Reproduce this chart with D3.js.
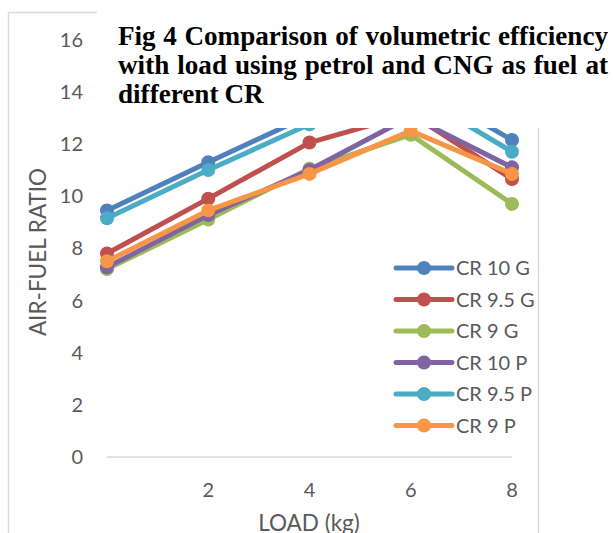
<!DOCTYPE html>
<html>
<head>
<meta charset="utf-8">
<script src="https://cdn.jsdelivr.net/npm/d3@7"></script>
<style>
  body { margin: 0; background: #fff; }
  svg { display: block; }
  text { font-family: Lato, "Noto Sans", sans-serif; fill: #595959; }
</style>
</head>
<body>
<div id="chart"></div>
<script>
// data (values above ~12.6 are hidden behind the caption box, estimated)
var loads = [0, 2, 4, 6, 8];
var xTicks = [2, 4, 6, 8];
var yTicks = [0, 2, 4, 6, 8, 10, 12, 14, 16];
var seriesNames = ["CR 10 G", "CR 9.5 G", "CR 9 G", "CR 10 P", "CR 9.5 P", "CR 9 P"];
var cr10g  = [9.45, 11.3, 13.1, 14.4, 12.15];
var cr95g  = [7.8, 9.9, 12.05, 13.15, 10.65];
var cr9g   = [7.2, 9.1, 11.05, 12.35, 9.7];
var cr10p  = [7.27, 9.27, 11.0, 13.05, 11.1];
var cr95p  = [9.15, 11.0, 12.75, 14.0, 11.7];
var cr9p   = [7.5, 9.45, 10.85, 12.5, 10.85];
var colors = ["#4F81BD", "#C0504D", "#9BBB59", "#8064A2", "#4BACC6", "#F79646"];
var titleLines = ["Fig 4 Comparison of volumetric efficiency",
                  "with load using petrol and CNG as fuel at",
                  "different CR"];

var allSeries = [cr10g, cr95g, cr9g, cr10p, cr95p, cr9p].map(function(v, i) {
  return {name: seriesNames[i], color: colors[i], values: v.map(function(d, j) { return {x: loads[j], y: d}; })};
});

var W = 613, H = 533;
var svg = d3.select("#chart").append("svg").attr("width", W).attr("height", H);

// chart border
svg.append("rect")
  .attr("x", 8.5).attr("y", 12.5).attr("width", 530).attr("height", 540)
  .attr("fill", "#fff").attr("stroke", "#d9d9d9").attr("stroke-width", 1.5);

var x = d3.scaleLinear().domain([0, 8]).range([107, 512]);
var y = d3.scaleLinear().domain([0, 16]).range([457, 39.5]);

// axis line at zero
svg.append("line")
  .attr("x1", x(0)).attr("x2", x(8)).attr("y1", y(0)).attr("y2", y(0))
  .attr("stroke", "#d9d9d9").attr("stroke-width", 1.5);

svg.selectAll(".ytick").data(yTicks).enter().append("text")
  .attr("class", "ytick")
  .attr("x", 83).attr("y", function(d) { return y(d); })
  .attr("dy", "0.36em").attr("text-anchor", "end")
  .style("font-size", "20px")
  .text(function(d) { return d; });

svg.selectAll(".xtick").data(xTicks).enter().append("text")
  .attr("class", "xtick")
  .attr("x", function(d) { return x(d); }).attr("y", 490)
  .attr("dy", "0.36em").attr("text-anchor", "middle")
  .style("font-size", "20px")
  .text(function(d) { return d; });

svg.append("text")
  .attr("x", 309).attr("y", 523).attr("dy", "0.36em")
  .attr("text-anchor", "middle").style("font-size", "22.5px")
  .text("LOAD (kg)");

svg.append("text")
  .attr("transform", "translate(38,252) rotate(-90)")
  .attr("dy", "0.36em").attr("text-anchor", "middle")
  .style("font-size", "22.5px")
  .text("AIR-FUEL RATIO");

var line = d3.line().x(function(d) { return x(d.x); }).y(function(d) { return y(d.y); });

var g = svg.selectAll(".series").data(allSeries).enter().append("g").attr("class", "series");
g.append("path")
  .attr("d", function(d) { return line(d.values); })
  .attr("fill", "none")
  .attr("stroke", function(d) { return d.color; })
  .attr("stroke-width", 5)
  .attr("stroke-linejoin", "round");
g.selectAll("circle").data(function(d) { return d.values.map(function(v) { return {x: v.x, y: v.y, color: d.color}; }); })
  .enter().append("circle")
  .attr("cx", function(d) { return x(d.x); })
  .attr("cy", function(d) { return y(d.y); })
  .attr("r", 7)
  .attr("fill", function(d) { return d.color; });

// legend
var leg = svg.selectAll(".leg").data(allSeries).enter().append("g")
  .attr("class", "leg")
  .attr("transform", function(d, i) { return "translate(396," + (268 + i * 31.5) + ")"; });
leg.append("line").attr("x1", 0).attr("x2", 56)
  .attr("stroke", function(d) { return d.color; })
  .attr("stroke-width", 5).attr("stroke-linecap", "round");
leg.append("circle").attr("cx", 28).attr("r", 7)
  .attr("fill", function(d) { return d.color; });
leg.append("text").attr("x", 60).attr("dy", "0.36em")
  .style("font-size", "20px")
  .text(function(d) { return d.name; });

// caption box pasted over the chart
svg.append("rect").attr("x", 97).attr("y", 0).attr("width", W - 97).attr("height", 128)
  .attr("fill", "#fff");

var tl = 118, tr = 608, space = 6;
// pick a font size so the first line just fills the box width
var probe = svg.append("text")
  .style("font-family", "'Liberation Serif', 'Times New Roman', serif")
  .style("font-weight", "bold").style("font-size", "20px")
  .text(titleLines[0]);
var fs = 20 * (tr - tl - 4) / probe.node().getComputedTextLength();
probe.remove();

titleLines.forEach(function(t, li) {
  var words = t.split(" ");
  var yy = 45 + li * 29;
  var nodes = words.map(function(w) {
    return svg.append("text").attr("y", yy)
      .style("font-family", "'Liberation Serif', 'Times New Roman', serif")
      .style("font-weight", "bold").style("font-size", fs + "px").style("fill", "#000")
      .text(w);
  });
  var widths = nodes.map(function(n) { return n.node().getComputedTextLength(); });
  var total = d3.sum(widths);
  var gap = li < titleLines.length - 1 ? (tr - tl - total) / (words.length - 1) : space;
  var cx = tl;
  nodes.forEach(function(n, i) { n.attr("x", cx); cx += widths[i] + gap; });
});
</script>
</body>
</html>
